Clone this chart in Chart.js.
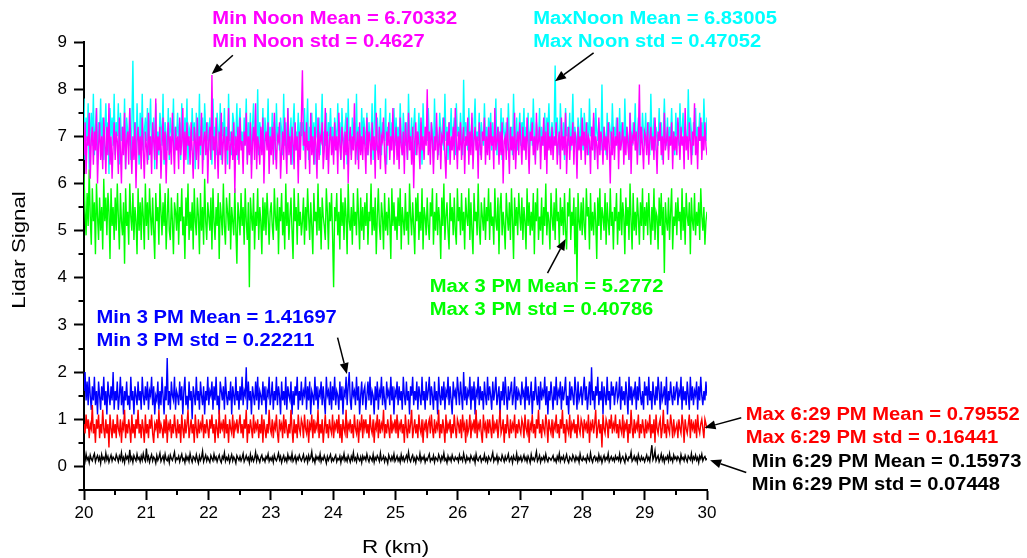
<!DOCTYPE html>
<html>
<head>
<meta charset="utf-8">
<script src="https://cdn.jsdelivr.net/npm/chart.js@4/dist/chart.umd.min.js"></script>
<style>
  html, body { margin: 0; padding: 0; background: #fff; }
  #wrap { width: 1027px; height: 558px; }
</style>
</head>
<body>
<div id="wrap"><canvas id="lidar" width="1027" height="558"></canvas></div>
<script>
// Lidar return signal samples, evenly spaced in range from 20 km to 30 km (30 samples per row = 0.5 km).
const minNoon = [
  6.6,7.3,6.2,7.0,6.8,7.5,6.1,6.9,7.2,6.4,7.1,6.7,7.6,6.0,6.8,7.3,6.5,7.0,6.3,7.4,6.9,6.2,7.2,6.6,7.7,6.4,7.0,6.1,6.8,7.3,
  6.5,7.1,6.9,6.2,7.4,6.7,6.0,7.2,6.6,7.5,6.3,6.9,7.1,6.4,7.6,6.8,6.2,7.0,6.5,7.3,5.9,6.9,7.2,6.6,7.0,6.3,7.4,6.7,6.1,7.1,
  6.8,6.4,7.5,6.6,7.0,6.2,7.3,6.9,6.5,7.8,6.3,7.0,6.7,7.2,6.1,6.8,7.4,6.5,7.1,6.0,6.9,7.3,6.6,7.0,6.4,7.5,6.8,6.2,7.2,6.7,
  7.0,6.3,7.4,6.6,6.9,7.6,6.2,7.1,6.5,7.3,6.8,7.0,6.4,7.3,6.7,6.1,7.2,6.9,6.5,7.4,6.3,7.0,6.8,7.5,6.2,6.9,7.1,6.6,7.3,6.0,
  6.9,7.2,6.5,8.3,6.7,7.0,6.3,7.4,6.8,6.1,7.1,6.6,7.5,6.4,6.9,7.2,6.2,7.0,6.7,7.6,6.3,6.8,7.1,6.5,7.3,5.8,7.0,6.6,7.2,6.4,
  7.4,6.7,6.9,6.2,7.1,6.8,7.5,6.4,7.0,6.6,7.3,6.1,6.9,7.2,6.5,7.7,6.3,7.0,6.8,6.4,7.2,6.6,7.4,6.0,6.9,7.1,6.7,7.3,6.2,7.0,
  6.6,7.2,6.4,7.5,6.8,6.3,7.0,6.9,7.3,6.1,6.7,7.1,6.5,7.4,6.8,6.2,7.6,6.6,7.0,6.4,7.2,6.9,6.3,7.3,6.7,7.0,6.0,7.1,6.5,7.4,
  8.4,6.8,7.1,6.3,7.3,6.7,6.9,6.2,7.5,6.6,7.0,6.4,7.2,6.8,6.1,7.4,6.5,7.0,6.9,7.3,6.3,6.7,7.6,6.5,7.1,6.2,6.9,7.2,6.6,7.0,
  6.4,7.3,6.7,7.0,6.2,7.5,6.8,6.5,7.2,6.9,6.3,7.1,6.6,7.4,6.0,6.9,7.2,6.5,7.0,6.7,7.7,6.4,6.8,7.1,6.3,7.3,6.6,7.0,6.5,7.2,
  6.8,6.2,7.4,6.6,7.1,6.9,6.4,7.3,6.7,7.0,6.1,7.5,6.8,6.5,7.2,6.3,7.0,6.9,7.4,6.6,6.2,7.1,6.8,7.3,6.5,7.0,6.7,7.6,6.4,6.9,
  7.2,6.5,7.0,6.3,7.4,6.8,6.6,7.1,6.2,7.3,6.9,6.5,7.5,6.7,7.0,6.4,7.2,5.9,6.9,7.3,6.6,7.1,6.8,6.3,7.4,6.7,7.0,6.5,7.2,6.8,
  8.0,6.6,7.1,6.4,7.3,6.9,6.2,7.0,6.7,7.5,6.5,6.8,7.2,6.3,7.0,6.9,7.4,6.6,6.1,7.1,6.8,7.3,6.4,7.0,6.7,7.2,6.5,7.6,6.9,6.3,
  7.1,6.7,7.3,6.5,6.9,7.2,6.2,7.0,6.8,7.4,6.4,7.1,6.6,7.5,6.3,6.9,7.2,6.7,7.0,6.1,7.3,6.8,6.5,7.1,6.9,7.4,6.4,7.0,6.6,7.2,
  6.5,7.3,6.8,7.0,6.3,7.6,6.7,6.9,7.2,6.4,7.1,6.6,7.3,6.0,6.9,7.0,6.5,7.4,6.8,6.2,7.2,6.7,7.0,6.5,7.5,6.3,6.9,7.1,6.6,7.3,
  6.9,6.4,7.2,6.7,7.0,6.5,7.4,6.8,6.2,7.1,6.9,7.3,6.6,7.0,6.4,7.5,6.7,6.9,7.2,6.3,7.0,6.8,7.4,6.5,7.1,6.2,7.3,6.7,7.0,6.6,
  7.2,6.5,7.0,6.8,7.3,6.4,6.9,7.1,6.3,7.4,6.7,7.0,6.6,7.5,6.2,6.9,7.2,6.5,7.0,6.8,7.3,6.4,7.1,6.9,6.1,7.2,6.7,7.0,6.5,7.4,
  6.8,7.1,6.4,7.3,6.6,7.0,6.9,6.2,7.2,6.7,7.5,6.5,7.0,6.8,6.3,7.4,6.6,7.1,6.9,6.4,7.2,6.7,7.0,6.5,7.3,6.8,6.0,7.1,6.6,7.2,
  6.5,7.0,6.8,7.4,6.3,7.1,6.7,6.9,7.3,6.4,7.0,6.6,7.2,6.8,6.5,7.5,6.2,7.0,6.9,7.3,6.7,7.1,6.4,7.0,8.1,6.6,7.2,6.8,6.3,7.1,
  7.0,6.6,7.3,6.4,6.9,7.2,6.7,7.0,6.5,7.4,6.8,6.2,7.1,6.9,7.3,6.6,7.0,6.4,7.5,6.7,6.9,7.2,6.5,7.0,6.8,7.3,6.3,7.1,6.7,7.0,
  6.6,7.4,6.9,6.5,7.2,6.8,7.0,6.3,7.6,6.7,7.0,6.5,7.3,6.9,6.4,7.1,6.8,7.7,6.6,7.0,6.3,7.2,6.9,7.4,6.5,7.0,6.7,7.3,6.8,6.6
];
const maxNoon = [
  7.8,6.5,7.4,6.9,7.7,6.3,7.1,7.5,6.8,7.9,6.6,7.2,7.6,6.4,7.3,7.0,7.8,6.7,7.4,6.5,7.1,7.7,6.9,7.3,6.2,7.6,7.0,7.4,6.8,7.9,
  6.6,7.3,7.0,7.7,6.4,7.5,6.9,7.2,6.7,7.8,6.3,7.4,7.1,6.8,7.6,6.5,7.2,8.6,6.9,7.3,6.6,7.7,7.0,6.4,7.5,6.8,7.9,6.7,7.1,7.4,
  6.9,7.6,6.5,7.2,7.8,6.7,7.0,7.4,6.3,7.7,6.9,7.1,6.6,7.5,7.2,6.8,7.9,6.4,7.3,7.0,6.7,7.6,6.5,7.4,7.1,6.9,7.8,6.6,7.2,7.0,
  7.5,6.8,7.3,6.5,7.7,7.0,6.6,7.4,6.9,7.8,6.4,7.2,7.1,6.7,7.6,6.9,7.3,6.3,7.5,7.0,6.8,7.9,6.6,7.2,7.4,6.5,7.7,7.1,6.9,7.3,
  6.7,7.4,7.0,6.4,7.8,6.9,7.2,6.6,7.5,7.1,6.8,7.7,6.5,7.3,7.0,7.6,6.7,7.2,6.4,7.9,6.9,7.1,6.6,7.5,7.3,6.8,7.0,7.7,6.5,7.2,
  7.6,6.9,7.1,6.6,7.4,7.0,7.8,6.5,7.3,6.8,7.5,6.4,7.2,7.7,6.9,7.0,6.7,8.0,6.6,7.3,7.1,6.8,7.6,6.3,7.4,7.0,6.9,7.8,6.7,7.2,
  6.8,7.5,7.0,7.3,6.5,7.7,6.9,7.2,6.7,7.4,7.1,6.6,7.9,6.8,7.3,6.5,7.6,7.0,6.9,7.4,6.4,7.2,7.7,6.7,7.1,6.9,7.5,6.6,7.3,7.0,
  7.3,6.7,7.6,6.9,7.1,7.8,6.5,7.2,7.0,7.5,6.8,7.3,6.4,7.7,7.0,6.9,7.4,6.6,7.2,7.9,6.7,7.1,6.8,7.5,6.5,7.3,7.0,7.6,6.9,7.2,
  6.6,7.4,7.1,6.8,7.7,6.9,7.3,6.5,7.6,7.0,6.7,7.2,7.5,6.4,7.8,6.9,7.1,6.6,7.4,7.0,7.3,6.8,7.9,6.5,7.2,7.0,6.7,7.6,6.9,7.4,
  7.1,6.8,7.5,6.6,7.3,7.0,6.9,7.7,6.5,7.2,8.1,6.7,7.4,7.0,6.8,7.6,6.6,7.3,7.1,6.9,7.8,6.4,7.2,7.0,7.5,6.7,7.3,6.9,7.6,6.8,
  7.4,6.9,7.2,6.7,7.7,7.0,6.6,7.5,7.1,6.8,7.3,6.5,7.9,7.0,6.9,7.4,6.7,7.2,7.6,6.6,7.1,6.9,7.5,6.8,7.3,6.4,7.7,7.0,6.9,7.2,
  6.9,7.6,7.0,6.7,7.3,7.1,6.5,7.8,6.9,7.2,7.0,6.6,7.5,7.1,6.8,7.4,6.7,7.9,6.9,7.2,6.5,7.3,7.0,7.6,6.8,7.1,7.4,6.6,7.7,7.0,
  7.2,6.8,7.5,7.0,6.6,8.2,6.9,7.3,7.1,6.7,7.6,6.9,7.0,7.4,6.5,7.2,7.8,6.8,7.1,6.9,7.5,6.6,7.3,7.0,6.8,7.7,6.9,7.2,6.7,7.4,
  7.0,7.5,6.7,7.3,6.9,7.1,7.8,6.6,7.2,7.0,6.8,7.6,6.5,7.4,7.1,6.9,7.3,6.7,7.7,7.0,6.8,7.2,6.6,7.9,7.0,6.9,7.4,6.7,7.1,7.5,
  6.8,7.3,7.0,7.6,6.7,7.2,6.9,7.5,6.6,7.1,7.4,6.8,7.8,7.0,6.5,7.3,7.1,6.9,7.6,6.7,7.2,7.0,6.8,7.5,6.6,7.4,7.1,7.7,6.9,7.0,
  7.3,6.9,7.1,8.5,6.8,7.4,7.0,6.6,7.7,7.1,6.9,7.3,6.5,7.6,7.0,7.2,6.8,7.5,6.7,7.1,7.9,6.9,7.2,7.0,6.6,7.4,7.1,6.8,7.6,7.0,
  6.7,7.5,7.1,6.9,7.3,6.6,7.8,7.0,7.2,6.8,7.4,6.5,7.6,7.1,6.9,7.3,7.0,6.7,8.1,6.8,7.2,7.0,6.6,7.5,6.9,7.3,7.1,6.8,7.7,7.0,
  7.2,6.9,7.4,7.0,6.7,7.6,6.8,7.3,7.1,6.6,7.8,6.9,7.2,7.0,6.5,7.5,7.1,6.8,7.3,6.9,7.7,6.7,7.0,7.4,6.6,7.2,6.9,7.5,7.0,6.8,
  7.5,6.8,7.1,7.3,6.6,7.9,7.0,6.9,7.4,6.7,7.2,7.0,6.8,7.6,6.9,7.3,6.5,7.1,7.8,7.0,6.8,7.4,6.7,7.2,7.0,7.6,6.9,7.1,6.6,7.5,
  7.0,7.3,6.8,7.7,6.9,7.1,7.5,6.7,7.2,7.0,6.8,8.0,6.9,7.4,7.1,6.6,7.3,7.0,7.6,6.8,7.2,7.0,7.5,6.9,7.3,6.7,7.8,7.1,6.9,7.4
];
const max3pm = [
  6.2,5.4,4.9,5.8,5.1,6.3,5.3,4.7,5.9,5.2,5.6,4.5,6.0,5.3,4.8,5.7,5.0,5.5,4.6,6.1,5.2,5.7,4.9,5.8,5.4,4.4,5.9,5.1,5.5,4.8,
  5.7,5.0,6.0,5.3,4.6,5.8,5.2,4.9,5.6,4.3,5.9,5.1,5.4,4.7,6.0,5.3,5.0,5.8,4.8,5.5,5.2,4.5,5.9,5.0,5.6,4.8,5.7,5.3,4.6,6.0,
  5.1,5.6,4.8,5.9,5.3,4.9,5.7,5.0,4.4,5.8,5.2,5.5,4.7,6.0,5.4,4.9,5.6,5.1,5.8,4.6,5.3,5.9,5.0,4.8,5.7,5.2,4.5,5.6,5.4,5.0,
  5.8,4.7,5.5,5.2,5.9,4.9,5.3,4.4,5.7,5.1,6.0,4.8,5.4,5.0,5.6,4.6,5.9,5.2,4.9,5.7,5.3,4.5,5.8,5.0,5.5,4.7,6.1,5.2,4.8,5.6,
  5.3,5.0,5.7,4.6,5.9,5.2,4.8,5.5,5.1,5.8,4.4,5.6,5.3,4.9,6.0,5.1,4.7,5.7,5.4,5.0,5.8,4.6,5.5,5.2,4.9,5.9,5.0,4.3,5.6,5.3,
  4.9,5.8,5.1,5.5,4.7,5.9,5.2,4.8,5.6,3.8,5.7,5.3,5.0,5.8,4.6,5.4,5.1,5.9,4.8,5.5,5.2,4.5,5.7,5.0,5.6,4.9,5.8,5.3,4.7,5.4,
  5.6,5.1,4.8,5.9,5.3,5.0,5.7,4.5,5.5,5.2,5.8,4.9,5.4,4.6,6.0,5.1,5.6,4.8,5.3,5.7,5.0,4.4,5.9,5.2,5.5,4.7,5.8,5.1,5.4,4.9,
  5.2,5.7,4.7,5.5,5.0,5.9,5.3,4.8,5.6,5.1,4.5,5.8,5.2,5.4,4.9,6.0,5.0,5.5,4.6,5.7,5.3,5.1,4.8,5.9,5.4,4.6,5.6,5.2,5.8,4.9,
  3.8,5.5,5.2,5.8,4.9,5.4,4.6,5.9,5.1,5.6,4.8,5.7,5.3,4.5,6.0,5.2,5.0,5.5,4.7,5.8,5.1,5.4,4.9,5.9,5.3,4.6,5.7,5.0,5.5,4.8,
  5.6,5.1,5.8,4.7,5.4,5.2,6.0,4.9,5.5,5.0,5.7,4.5,5.3,5.9,5.1,4.8,5.6,5.3,4.6,5.8,5.0,5.4,4.9,5.7,5.2,4.4,5.9,5.1,5.6,5.0,
  5.3,4.8,5.7,5.1,5.9,4.6,5.5,5.2,4.9,5.8,5.0,5.4,4.7,6.0,5.3,4.9,5.6,5.1,4.5,5.7,5.2,5.8,4.8,5.4,5.0,5.9,4.6,5.5,5.3,4.9,
  5.7,5.1,4.8,5.6,5.3,5.9,4.7,5.4,5.0,5.8,4.9,5.5,5.2,4.4,5.7,5.1,6.0,4.8,5.3,5.6,5.0,4.6,5.8,5.2,5.5,4.9,5.7,5.0,4.7,5.9,
  5.2,5.5,4.9,5.8,5.0,5.4,4.6,5.7,5.3,5.1,5.9,4.8,5.6,5.0,4.5,5.8,5.2,5.4,4.9,6.0,5.1,4.7,5.6,5.3,5.0,5.7,4.8,5.5,5.2,5.9,
  4.8,5.6,5.1,5.3,4.7,5.9,5.2,5.0,5.7,4.5,5.5,5.8,4.9,5.4,5.1,4.6,5.8,5.3,5.0,5.6,4.8,5.9,5.2,4.4,5.7,5.1,5.5,4.9,5.8,5.3,
  5.0,5.7,4.8,5.5,5.2,4.6,5.9,5.1,5.6,4.9,5.4,5.0,5.8,4.5,5.6,5.2,5.9,4.8,5.3,5.0,5.7,4.7,5.5,5.1,6.0,4.9,5.4,5.2,4.6,5.8,
  5.3,5.0,5.6,4.8,5.9,5.2,5.4,4.7,5.7,5.1,5.5,4.9,5.8,5.0,4.6,5.6,5.3,5.9,4.8,5.4,5.1,5.7,4.5,5.5,3.9,5.8,5.2,5.0,5.6,4.9,
  5.7,5.1,4.8,5.9,5.3,5.5,4.6,5.8,5.0,5.4,4.9,5.6,5.2,4.4,5.7,5.1,5.9,4.8,5.5,5.3,5.0,5.8,4.7,5.6,5.2,4.9,5.9,5.1,5.4,4.6,
  5.5,5.2,5.8,4.7,5.4,5.0,5.9,4.9,5.6,5.3,4.5,5.7,5.1,5.5,4.8,6.0,5.2,4.6,5.8,5.0,5.4,4.9,5.7,5.3,4.7,5.6,5.1,5.9,4.8,5.5,
  5.1,5.6,4.9,5.8,5.2,4.7,5.5,5.0,5.9,4.8,5.4,5.3,4.6,5.7,5.1,5.8,4.9,5.5,4.1,5.6,5.2,5.0,5.7,4.8,5.4,5.9,4.6,5.3,5.1,5.6,
  4.9,5.7,5.2,5.4,4.8,5.9,5.0,5.5,4.7,5.8,5.3,5.1,5.6,4.5,5.7,5.2,5.0,5.8,4.9,5.4,5.1,5.6,4.8,5.9,5.3,5.0,5.5,4.7,5.2,5.4
];
const min3pm = [
  1.6,2.0,1.4,1.8,1.3,1.9,1.5,1.2,1.7,1.4,1.9,1.3,1.6,1.1,1.8,1.5,1.2,1.7,1.4,1.9,1.3,1.6,1.1,1.8,1.5,1.3,1.7,1.4,2.0,1.2,
  1.6,1.4,1.8,1.2,1.5,1.9,1.3,1.7,1.1,1.6,1.4,1.8,1.3,1.5,1.2,1.9,1.4,1.6,1.1,1.7,1.5,1.3,1.8,1.4,1.6,1.2,1.9,1.5,1.3,1.7,
  1.4,1.8,1.2,1.6,1.5,1.9,1.3,1.7,1.1,1.5,1.4,1.8,1.2,1.6,1.3,1.9,1.5,1.1,1.7,1.4,2.3,1.3,1.6,1.2,1.8,1.5,1.4,1.9,1.2,1.6,
  1.5,1.3,1.8,1.4,1.7,1.1,1.6,1.9,1.3,1.5,1.2,1.8,1.4,1.6,1.0,1.7,1.5,1.3,1.9,1.4,1.6,1.2,1.8,1.5,1.3,1.7,1.1,1.6,1.4,1.9,
  1.3,1.6,1.5,1.8,1.2,1.7,1.4,1.9,1.3,1.5,1.1,1.8,1.6,1.4,1.7,1.2,1.9,1.5,1.3,1.6,1.4,1.8,1.1,1.7,1.5,1.3,1.9,1.4,1.6,1.2,
  1.7,1.4,1.9,1.3,1.6,1.5,2.1,1.2,1.8,1.4,1.6,1.1,1.7,1.5,1.3,1.8,1.4,1.9,1.2,1.6,1.5,1.3,1.8,1.4,1.7,1.1,1.6,1.5,1.9,1.3,
  1.5,1.8,1.2,1.6,1.4,1.9,1.3,1.7,1.5,1.1,1.8,1.4,1.6,1.3,1.9,1.2,1.7,1.5,1.4,1.8,1.1,1.6,1.3,1.7,1.5,1.9,1.2,1.6,1.4,1.8,
  1.3,1.6,1.5,1.9,1.2,1.7,1.4,1.8,1.1,1.6,1.5,1.3,1.9,1.4,1.7,1.2,1.6,1.5,1.8,1.3,1.7,1.4,1.1,1.9,1.5,1.6,1.3,1.8,1.2,1.7,
  1.4,1.9,1.3,1.6,1.5,1.2,1.8,1.4,1.7,1.1,1.6,1.5,1.9,1.3,1.7,2.0,1.4,1.2,1.8,1.5,1.6,1.3,1.9,1.4,1.7,1.1,1.5,1.8,1.3,1.6,
  1.7,1.2,1.5,1.8,1.4,1.9,1.3,1.6,1.5,1.1,1.7,1.4,1.8,1.2,1.6,1.5,1.9,1.3,1.7,1.4,1.2,1.8,1.5,1.6,1.3,1.9,1.4,1.7,1.1,1.6,
  1.5,1.8,1.3,1.7,1.4,1.6,1.2,1.9,1.5,1.3,1.8,1.4,1.6,1.1,1.7,1.5,1.9,1.3,1.6,1.4,1.8,1.2,1.7,1.5,1.3,1.9,1.4,1.6,1.2,1.8,
  1.4,1.6,1.9,1.3,1.7,1.5,1.2,1.8,1.4,1.6,1.1,1.9,1.5,1.3,1.7,1.4,1.8,1.2,1.6,1.5,1.9,1.3,1.7,1.4,1.1,1.8,1.5,1.6,1.3,1.9,
  1.6,1.3,1.8,1.5,1.2,2.0,1.4,1.7,1.3,1.6,1.5,1.9,1.2,1.7,1.4,1.8,1.1,1.6,1.5,1.9,1.3,1.7,1.4,1.6,1.2,1.8,1.5,1.3,1.9,1.4,
  1.7,1.5,1.2,1.8,1.4,1.6,1.9,1.3,1.5,1.7,1.1,1.6,1.4,1.8,1.3,1.9,1.5,1.2,1.7,1.4,1.6,1.8,1.3,1.5,1.9,1.2,1.7,1.4,1.6,1.5,
  1.3,1.8,1.5,1.6,1.2,1.9,1.4,1.7,1.3,1.5,1.8,1.1,1.6,1.4,1.9,1.5,1.3,1.7,1.2,1.8,1.4,1.6,1.5,1.9,1.3,1.7,1.1,1.6,1.4,1.8,
  1.5,1.2,1.7,1.4,1.9,1.3,1.6,1.5,1.8,1.2,1.7,1.4,1.6,1.9,1.3,1.5,1.1,1.8,1.4,1.7,1.5,1.3,1.9,1.6,1.2,1.8,1.4,1.5,1.7,1.3,
  1.6,1.9,1.4,1.7,1.2,1.5,1.8,1.3,2.1,1.4,1.6,1.2,1.7,1.5,1.9,1.3,1.6,1.4,1.8,1.1,1.7,1.5,1.3,1.9,1.4,1.6,1.2,1.8,1.5,1.7,
  1.3,1.6,1.8,1.4,1.5,1.9,1.2,1.7,1.4,1.6,1.3,1.8,1.5,1.1,1.9,1.4,1.7,1.3,1.6,1.5,1.8,1.2,1.7,1.4,1.9,1.5,1.3,1.6,1.2,1.8,
  1.5,1.7,1.3,1.9,1.4,1.6,1.2,1.8,1.5,1.3,1.7,1.4,1.9,1.6,1.2,1.8,1.4,1.5,1.7,1.3,1.9,1.1,1.6,1.4,1.8,1.5,1.3,1.7,1.4,1.6,
  1.8,1.3,1.6,1.5,1.9,1.2,1.7,1.4,1.6,1.3,1.8,1.5,1.2,1.9,1.4,1.7,1.3,1.6,1.5,1.8,1.2,1.7,1.4,1.9,1.5,1.3,1.6,1.4,1.8,1.5
];
const max629pm = [
  0.9,0.7,1.1,0.8,1.0,0.6,0.9,0.8,1.3,0.7,0.9,0.5,1.0,0.8,1.1,0.6,0.9,0.7,1.2,0.8,0.6,1.0,0.7,0.9,0.4,1.1,0.8,0.6,1.0,0.7,
  0.9,0.6,1.1,0.8,0.7,1.0,0.5,0.9,0.8,1.2,0.6,0.9,0.7,1.0,0.8,0.5,1.1,0.7,0.9,0.6,1.0,0.8,1.2,0.7,0.9,0.6,1.0,0.8,0.5,1.1,
  0.7,0.9,0.6,1.0,0.8,1.1,0.7,0.5,0.9,0.8,1.0,0.6,1.2,0.7,0.9,0.8,0.6,1.0,0.7,1.1,0.5,0.9,0.8,1.0,0.6,0.9,0.7,1.1,0.8,0.6,
  1.0,0.7,0.9,0.5,1.1,0.8,0.6,1.0,0.7,0.9,1.2,0.6,0.8,1.0,0.7,0.9,0.5,1.1,0.8,0.6,1.0,0.7,0.9,0.8,1.1,0.6,0.9,0.7,1.0,0.8,
  0.6,1.0,0.8,1.1,0.7,0.9,0.5,1.0,0.8,0.6,1.2,0.7,0.9,0.8,1.0,0.6,1.1,0.7,0.9,0.5,1.0,0.8,0.7,1.1,0.6,0.9,0.8,1.0,0.7,0.9,
  1.1,0.7,0.9,0.6,1.0,0.8,1.2,0.5,0.9,0.7,1.0,0.8,0.6,1.1,0.7,0.9,0.8,1.0,0.6,0.9,0.7,1.1,0.5,1.0,0.8,0.6,0.9,0.7,1.2,0.8,
  0.7,1.0,0.6,0.9,0.8,1.1,0.7,0.5,1.0,0.8,0.9,0.6,1.1,0.7,1.0,0.8,0.6,0.9,0.7,1.2,0.8,0.5,1.0,0.7,0.9,0.6,1.1,0.8,0.7,1.0,
  0.9,0.6,1.1,0.8,0.7,1.0,0.5,0.9,0.8,1.1,0.6,1.0,0.7,0.9,0.8,1.2,0.6,0.9,0.7,1.0,0.5,0.8,1.1,0.7,0.9,0.6,1.0,0.8,0.7,1.1,
  0.6,0.9,0.8,1.0,0.7,1.1,0.6,0.9,0.5,1.0,0.8,0.7,1.2,0.6,0.9,0.8,1.0,0.7,0.9,0.6,1.1,0.8,0.7,1.0,0.5,0.9,0.8,1.1,0.6,1.0,
  0.8,1.0,0.7,0.9,0.6,1.1,0.8,0.7,1.0,0.5,0.9,0.8,1.1,0.6,1.0,0.7,0.9,0.8,1.2,0.6,0.9,0.7,1.0,0.8,0.6,1.1,0.7,0.9,0.8,1.0,
  0.7,1.1,0.6,0.9,0.8,1.0,0.7,0.9,0.5,1.1,0.8,0.6,1.0,0.7,0.9,1.2,0.6,0.8,1.0,0.7,0.9,0.6,1.1,0.8,0.7,1.0,0.5,0.9,0.8,1.0,
  0.6,0.9,1.0,0.7,1.1,0.8,0.6,1.0,0.7,0.9,0.8,1.2,0.6,0.9,0.7,1.0,0.8,0.5,1.1,0.7,0.9,0.8,1.0,0.6,0.9,0.7,1.1,0.8,0.6,1.0,
  0.9,0.7,1.0,0.6,1.1,0.8,0.9,0.5,1.0,0.7,0.8,1.1,0.6,0.9,0.8,1.0,0.7,1.2,0.6,0.9,0.8,1.0,0.7,0.5,1.1,0.8,0.9,0.6,1.0,0.7,
  1.0,0.8,0.6,1.1,0.7,0.9,0.8,1.0,0.6,0.9,1.2,0.7,0.8,1.0,0.5,0.9,0.7,1.1,0.8,0.6,1.0,0.7,0.9,0.8,1.1,0.6,0.9,0.7,1.0,0.8,
  0.7,1.0,0.9,0.6,1.1,0.8,0.7,1.0,0.5,0.9,0.8,1.1,0.7,0.9,0.6,1.0,0.8,1.2,0.7,0.9,0.6,1.0,0.8,0.7,1.1,0.9,0.5,1.0,0.8,0.7,
  1.0,0.6,0.9,0.8,1.1,0.7,0.9,0.6,1.0,0.8,1.2,0.7,0.9,0.5,1.0,0.8,0.7,1.1,0.6,0.9,0.8,1.0,0.7,0.9,0.6,1.1,0.8,0.7,1.0,0.9,
  0.6,1.0,0.8,0.9,0.7,1.1,0.5,0.9,0.8,1.0,0.7,0.9,1.2,0.6,0.8,1.0,0.7,0.9,0.4,1.1,0.8,0.7,1.0,0.9,0.6,1.0,0.8,1.1,0.7,0.9,
  0.8,1.1,0.7,0.9,0.6,1.0,0.8,0.7,1.1,0.6,0.9,0.8,1.0,0.5,0.9,0.7,1.2,0.8,0.6,1.0,0.7,0.9,0.8,1.1,0.6,0.9,0.7,1.0,0.8,0.6,
  1.0,0.7,0.9,0.8,1.1,0.6,0.9,0.7,1.0,0.5,1.1,0.8,0.7,0.9,1.0,0.6,0.8,1.2,0.7,0.9,0.6,1.0,0.8,0.7,1.1,0.9,0.6,1.0,0.7,0.8,
  0.9,0.6,1.0,0.8,0.7,1.1,0.9,0.5,1.0,0.8,0.7,0.9,1.1,0.6,1.0,0.8,0.9,0.7,1.0,0.6,1.1,0.8,0.7,0.9,1.0,0.8,0.6,1.0,0.9,0.8
];
const min629pm = [
  0.22,0.11,0.26,0.14,0.19,0.08,0.24,0.16,0.12,0.21,0.27,0.10,0.18,0.23,0.13,0.20,0.07,0.25,0.15,0.19,0.11,0.28,0.14,0.21,0.09,0.17,0.24,0.12,0.20,0.16,
  0.13,0.25,0.18,0.10,0.22,0.15,0.29,0.12,0.19,0.08,0.24,0.16,0.21,0.11,0.35,0.14,0.20,0.09,0.23,0.17,0.12,0.26,0.15,0.19,0.10,0.22,0.13,0.27,0.16,0.11,
  0.38,0.14,0.21,0.09,0.18,0.25,0.12,0.20,0.16,0.07,0.23,0.13,0.19,0.28,0.11,0.17,0.22,0.10,0.26,0.15,0.12,0.20,0.08,0.24,0.17,0.13,0.21,0.30,0.11,0.18,
  0.15,0.22,0.10,0.19,0.26,0.13,0.17,0.08,0.23,0.14,0.20,0.11,0.27,0.16,0.09,0.21,0.18,0.12,0.25,0.15,0.07,0.22,0.13,0.19,0.32,0.10,0.17,0.24,0.12,0.20,
  0.14,0.09,0.23,0.17,0.12,0.26,0.15,0.20,0.10,0.18,0.24,0.13,0.08,0.21,0.16,0.29,0.11,0.19,0.14,0.22,0.09,0.17,0.25,0.12,0.20,0.15,0.07,0.23,0.18,0.13,
  0.21,0.12,0.18,0.27,0.10,0.16,0.23,0.14,0.19,0.08,0.25,0.13,0.20,0.11,0.17,0.30,0.12,0.22,0.15,0.09,0.19,0.24,0.13,0.17,0.10,0.21,0.16,0.26,0.11,0.18,
  0.13,0.20,0.09,0.24,0.16,0.12,0.19,0.28,0.14,0.21,0.08,0.17,0.23,0.12,0.18,0.10,0.25,0.15,0.20,0.13,0.27,0.11,0.16,0.22,0.09,0.19,0.14,0.24,0.17,0.12,
  0.18,0.25,0.11,0.16,0.21,0.09,0.23,0.14,0.19,0.31,0.12,0.17,0.08,0.22,0.15,0.20,0.13,0.26,0.10,0.18,0.14,0.23,0.16,0.07,0.21,0.13,0.19,0.25,0.11,0.17,
  0.12,0.19,0.24,0.10,0.17,0.14,0.22,0.08,0.20,0.15,0.27,0.12,0.18,0.11,0.23,0.16,0.09,0.21,0.14,0.29,0.13,0.18,0.10,0.24,0.16,0.12,0.20,0.08,0.22,0.15,
  0.20,0.13,0.26,0.16,0.10,0.21,0.17,0.12,0.25,0.09,0.19,0.14,0.23,0.18,0.11,0.28,0.13,0.16,0.22,0.10,0.19,0.15,0.07,0.24,0.17,0.12,0.21,0.14,0.26,0.11,
  0.16,0.22,0.12,0.18,0.09,0.25,0.14,0.20,0.11,0.17,0.23,0.13,0.30,0.15,0.10,0.19,0.24,0.12,0.18,0.08,0.21,0.16,0.13,0.27,0.11,0.19,0.15,0.22,0.09,0.17,
  0.13,0.20,0.26,0.11,0.17,0.14,0.23,0.09,0.19,0.16,0.12,0.25,0.18,0.10,0.21,0.15,0.28,0.13,0.17,0.08,0.22,0.14,0.19,0.11,0.24,0.16,0.12,0.20,0.15,0.18,
  0.10,0.24,0.15,0.19,0.12,0.27,0.16,0.09,0.21,0.14,0.18,0.11,0.23,0.17,0.13,0.20,0.08,0.26,0.15,0.12,0.19,0.22,0.10,0.17,0.14,0.25,0.12,0.18,0.09,0.21,
  0.16,0.12,0.20,0.29,0.11,0.18,0.14,0.23,0.09,0.19,0.15,0.12,0.24,0.17,0.10,0.21,0.13,0.18,0.26,0.11,0.16,0.20,0.08,0.22,0.15,0.13,0.27,0.10,0.19,0.14,
  0.21,0.11,0.17,0.24,0.13,0.19,0.10,0.22,0.16,0.08,0.25,0.14,0.18,0.12,0.20,0.31,0.11,0.16,0.23,0.09,0.18,0.14,0.21,0.12,0.26,0.15,0.10,0.19,0.17,0.13,
  0.18,0.23,0.12,0.16,0.09,0.21,0.14,0.27,0.11,0.19,0.15,0.22,0.10,0.17,0.25,0.13,0.08,0.20,0.16,0.12,0.24,0.18,0.11,0.21,0.14,0.19,0.09,0.26,0.15,0.12,
  0.20,0.14,0.17,0.10,0.23,0.16,0.12,0.28,0.15,0.09,0.19,0.22,0.13,0.18,0.11,0.25,0.14,0.20,0.08,0.17,0.23,0.12,0.19,0.15,0.27,0.10,0.16,0.21,0.13,0.18,
  0.11,0.22,0.15,0.19,0.13,0.26,0.10,0.17,0.21,0.14,0.08,0.24,0.16,0.12,0.20,0.18,0.30,0.11,0.15,0.22,0.13,0.19,0.09,0.25,0.16,0.12,0.21,0.14,0.18,0.10,
  0.17,0.24,0.13,0.19,0.11,0.28,0.45,0.14,0.20,0.33,0.12,0.18,0.23,0.10,0.16,0.26,0.13,0.21,0.09,0.19,0.15,0.22,0.12,0.27,0.14,0.18,0.10,0.24,0.16,0.20,
  0.13,0.21,0.17,0.09,0.25,0.15,0.19,0.12,0.23,0.16,0.10,0.22,0.18,0.14,0.27,0.11,0.20,0.15,0.24,0.13,0.19,0.08,0.22,0.16,0.26,0.12,0.18,0.21,0.14,0.17
];

// Axis range and tick labels
const rangeStart = 20, rangeEnd = 30;
const xTickValues = [20, 21, 22, 23, 24, 25, 26, 27, 28, 29, 30];
const yTickValues = [0, 1, 2, 3, 4, 5, 6, 7, 8, 9];
const xTitle = 'R (km)';
const yTitle = 'Lidar Signal';

// Statistics callouts: label lines, anchor (km, signal), arrow tail -> tip (km, signal)
const callouts = [
  { lines: ['Min Noon Mean = 6.70332', 'Min Noon std = 0.4627'], color: '#ff00ff',
    at: [22.06, 9.38], tail: [22.39, 8.72], tip: [22.05, 8.32] },
  { lines: ['MaxNoon Mean = 6.83005', 'Max Noon std = 0.47052'], color: '#00ffff',
    at: [27.21, 9.38], tail: [28.18, 8.77], tip: [27.56, 8.17] },
  { lines: ['Max 3 PM Mean = 5.2772', 'Max 3 PM std = 0.40786'], color: '#00ff00',
    at: [25.55, 3.69], tail: [27.44, 4.10], tip: [27.73, 4.82] },
  { lines: ['Min 3 PM Mean = 1.41697', 'Min 3 PM std = 0.22211'], color: '#0000ff',
    at: [20.20, 3.05], tail: [24.07, 2.73], tip: [24.22, 1.96] },
  { lines: ['Max 6:29 PM Mean = 0.79552', 'Max 6:29 PM std = 0.16441'], color: '#ff0000',
    at: [30.62, 0.99], tail: [30.55, 1.03], tip: [29.96, 0.82] },
  { lines: ['Min 6:29 PM Mean = 0.15973', 'Min 6:29 PM std = 0.07448'], color: '#000000',
    at: [30.72, -0.01], tail: [30.63, -0.13], tip: [30.05, 0.13] }
];

// Pair each sample with its range position (samples are uniformly spaced over the span)
function toPoints(values) {
  const n = values.length;
  return values.map((v, i) => ({ x: rangeStart + (rangeEnd - rangeStart) * i / (n - 1), y: v }));
}

function series(values, color) {
  return {
    data: toPoints(values),
    borderColor: color,
    borderWidth: 1.4,
    pointRadius: 0,
    fill: false,
    tension: 0
  };
}

const FONT = '"Liberation Sans", Arial, Helvetica, sans-serif';

// Draws text stretched along its baseline direction
function wideText(ctx, text, x, y, font, color, stretch, angle, align) {
  ctx.save();
  ctx.translate(x, y);
  if (angle) ctx.rotate(angle);
  ctx.scale(stretch, 1);
  ctx.font = font;
  ctx.fillStyle = color;
  ctx.textAlign = align || 'left';
  ctx.textBaseline = 'alphabetic';
  ctx.fillText(text, 0, 0);
  ctx.restore();
}

function arrow(ctx, x0, y0, x1, y1) {
  const ang = Math.atan2(y1 - y0, x1 - x0);
  const head = 11, half = 4.5;
  const bx = x1 - head * Math.cos(ang), by = y1 - head * Math.sin(ang);
  ctx.save();
  ctx.strokeStyle = '#000';
  ctx.fillStyle = '#000';
  ctx.lineWidth = 1.5;
  ctx.beginPath();
  ctx.moveTo(x0, y0);
  ctx.lineTo(bx, by);
  ctx.stroke();
  ctx.beginPath();
  ctx.moveTo(x1, y1);
  ctx.lineTo(bx + half * Math.sin(ang), by - half * Math.cos(ang));
  ctx.lineTo(bx - half * Math.sin(ang), by + half * Math.cos(ang));
  ctx.closePath();
  ctx.fill();
  ctx.restore();
}

const decorations = {
  id: 'decorations',
  afterDraw(chart) {
    const { ctx, chartArea, scales } = chart;
    const xs = scales.x, ys = scales.y;

    // minor ticks halfway between the labelled ones
    ctx.save();
    ctx.strokeStyle = '#000';
    ctx.lineWidth = 2;
    for (let i = 0; i < xTickValues.length - 1; i++) {
      const px = Math.round(xs.getPixelForValue((xTickValues[i] + xTickValues[i + 1]) / 2));
      ctx.beginPath();
      ctx.moveTo(px, chartArea.bottom);
      ctx.lineTo(px, chartArea.bottom + 5);
      ctx.stroke();
    }
    const yMinor = [yTickValues[0] - 0.5];
    for (let i = 0; i < yTickValues.length - 1; i++) yMinor.push((yTickValues[i] + yTickValues[i + 1]) / 2);
    yMinor.forEach(v => {
      const py = Math.round(ys.getPixelForValue(v));
      ctx.beginPath();
      ctx.moveTo(chartArea.left, py);
      ctx.lineTo(chartArea.left - 5.5, py);
      ctx.stroke();
    });
    ctx.restore();

    // axis titles
    wideText(ctx, xTitle, (chartArea.left + chartArea.right) / 2, 552.5,
      '19px ' + FONT, '#000', 1.18, 0, 'center');
    wideText(ctx, yTitle, 25, (chartArea.top + chartArea.bottom) / 2 - 16,
      '19px ' + FONT, '#000', 1.17, -Math.PI / 2, 'center');

    // callouts
    callouts.forEach(c => {
      const x = xs.getPixelForValue(c.at[0]);
      const y = ys.getPixelForValue(c.at[1]);
      c.lines.forEach((t, k) => {
        wideText(ctx, t, x, y + k * 23, 'bold 18px ' + FONT, c.color, 1.12, 0, 'left');
      });
      arrow(ctx,
        xs.getPixelForValue(c.tail[0]), ys.getPixelForValue(c.tail[1]),
        xs.getPixelForValue(c.tip[0]), ys.getPixelForValue(c.tip[1]));
    });
  }
};

new Chart(document.getElementById('lidar'), {
  type: 'line',
  data: {
    datasets: [
      series(minNoon, '#ff00ff'),
      series(maxNoon, '#00ffff'),
      series(max3pm, '#00ff00'),
      series(min629pm, '#000000'),
      series(max629pm, '#ff0000'),
      series(min3pm, '#0000ff')
    ]
  },
  options: {
    responsive: false,
    devicePixelRatio: 1,
    animation: false,
    events: [],
    layout: { padding: { top: 42, right: 320, bottom: 0, left: 0 } },
    plugins: { legend: { display: false }, tooltip: { enabled: false }, title: { display: false } },
    scales: {
      x: {
        type: 'linear',
        min: rangeStart,
        max: rangeEnd,
        afterBuildTicks: s => { s.ticks = xTickValues.map(v => ({ value: v })); },
        afterFit: s => { s.height = 68; },
        ticks: { color: '#000', font: { family: FONT, size: 17 }, padding: 3, maxRotation: 0 },
        grid: { drawOnChartArea: false, drawTicks: true, tickLength: 10, tickWidth: 2, tickColor: '#000' },
        border: { display: true, color: '#000', width: 2 }
      },
      y: {
        type: 'linear',
        min: -0.5,
        max: 9,
        afterBuildTicks: s => { s.ticks = yTickValues.map(v => ({ value: v })); },
        afterFit: s => { s.width = 84; },
        ticks: { color: '#000', font: { family: FONT, size: 17 }, padding: 7 },
        grid: { drawOnChartArea: false, drawTicks: true, tickLength: 10, tickWidth: 2, tickColor: '#000' },
        border: { display: true, color: '#000', width: 2 }
      }
    }
  },
  plugins: [decorations]
});
</script>
</body>
</html>
